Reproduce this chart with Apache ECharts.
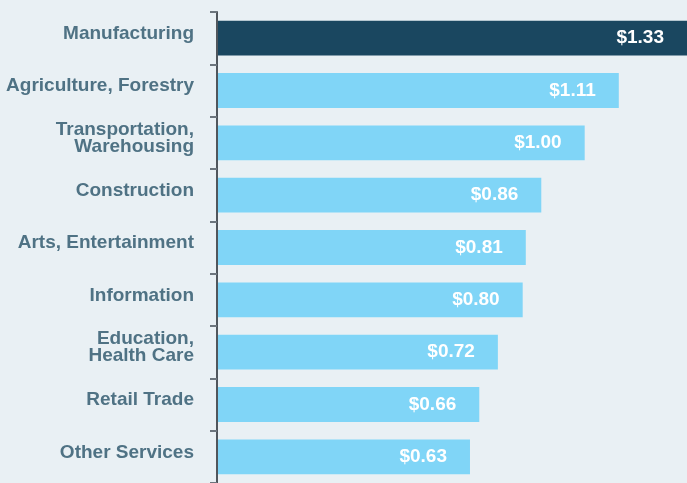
<!DOCTYPE html>
<html>
<head>
<meta charset="utf-8">
<script src="https://cdn.jsdelivr.net/npm/echarts@6/dist/echarts.min.js"></script>
<style>
html,body{margin:0;padding:0;background:#e9f0f4;}
#chart{width:687px;height:483px;}
</style>
</head>
<body>
<div id="chart"></div>
<script>
const categories = ['Manufacturing','Agriculture, Forestry','Transportation,\nWarehousing','Construction','Arts, Entertainment','Information','Education,\nHealth Care','Retail Trade','Other Services'];
const values = [1.33, 1.11, 1.00, 0.86, 0.81, 0.80, 0.72, 0.66, 0.63];
const highlighted = ['Manufacturing'];

const X_MIN = -0.186, X_MAX = 1.33;
const chart = echarts.init(document.getElementById('chart'), null, {renderer:'canvas'});
chart.setOption({
  backgroundColor: '#e9f0f4',
  animation: false,
  grid: {left: 217, right: -4, top: 12, bottom: -2, containLabel: false},
  xAxis: {type: 'value', min: X_MIN, max: X_MAX, show: false},
  yAxis: {
    type: 'category',
    inverse: true,
    data: categories,
    axisLine: {show: true, onZero: false, lineStyle: {color: '#50565c', width: 2}},
    axisTick: {show: true, length: 7, lineStyle: {color: '#6c757d', width: 2}},
    axisLabel: {
      margin: 23,
      fontFamily: 'Liberation Sans',
      fontWeight: 'bold',
      fontSize: 19,
      lineHeight: 17,
      color: '#4f7284',
      formatter: function (v) { return v + '\n{s| }'; },
      rich: {s: {fontSize: 1, lineHeight: 9}}
    }
  },
  series: [{
    type: 'custom',
    encode: {x: 0, y: 1},
    data: values.map((v, i) => [v, i]),
    renderItem: function (params, api) {
      const v = api.value(0);
      const idx = api.value(1);
      const start = api.coord([X_MIN, idx]);
      const end = api.coord([v, idx]);
      const band = api.size([0, 1])[1];
      const h = band * 0.665;
      const color = highlighted.includes(categories[idx]) ? '#1a4760' : '#80d5f7';
      return {
        type: 'group',
        children: [{
          type: 'rect',
          shape: {x: start[0] + 1, y: start[1] - h / 2, width: end[0] - start[0] - 1, height: h},
          style: {fill: color}
        }, {
          type: 'text',
          x: end[0] - 23,
          y: end[1],
          style: {
            text: '$' + v.toFixed(2),
            fill: '#ffffff',
            font: 'bold 19px "Liberation Sans"',
            align: 'right',
            verticalAlign: 'middle'
          }
        }]
      };
    }
  }]
});
</script>
</body>
</html>
